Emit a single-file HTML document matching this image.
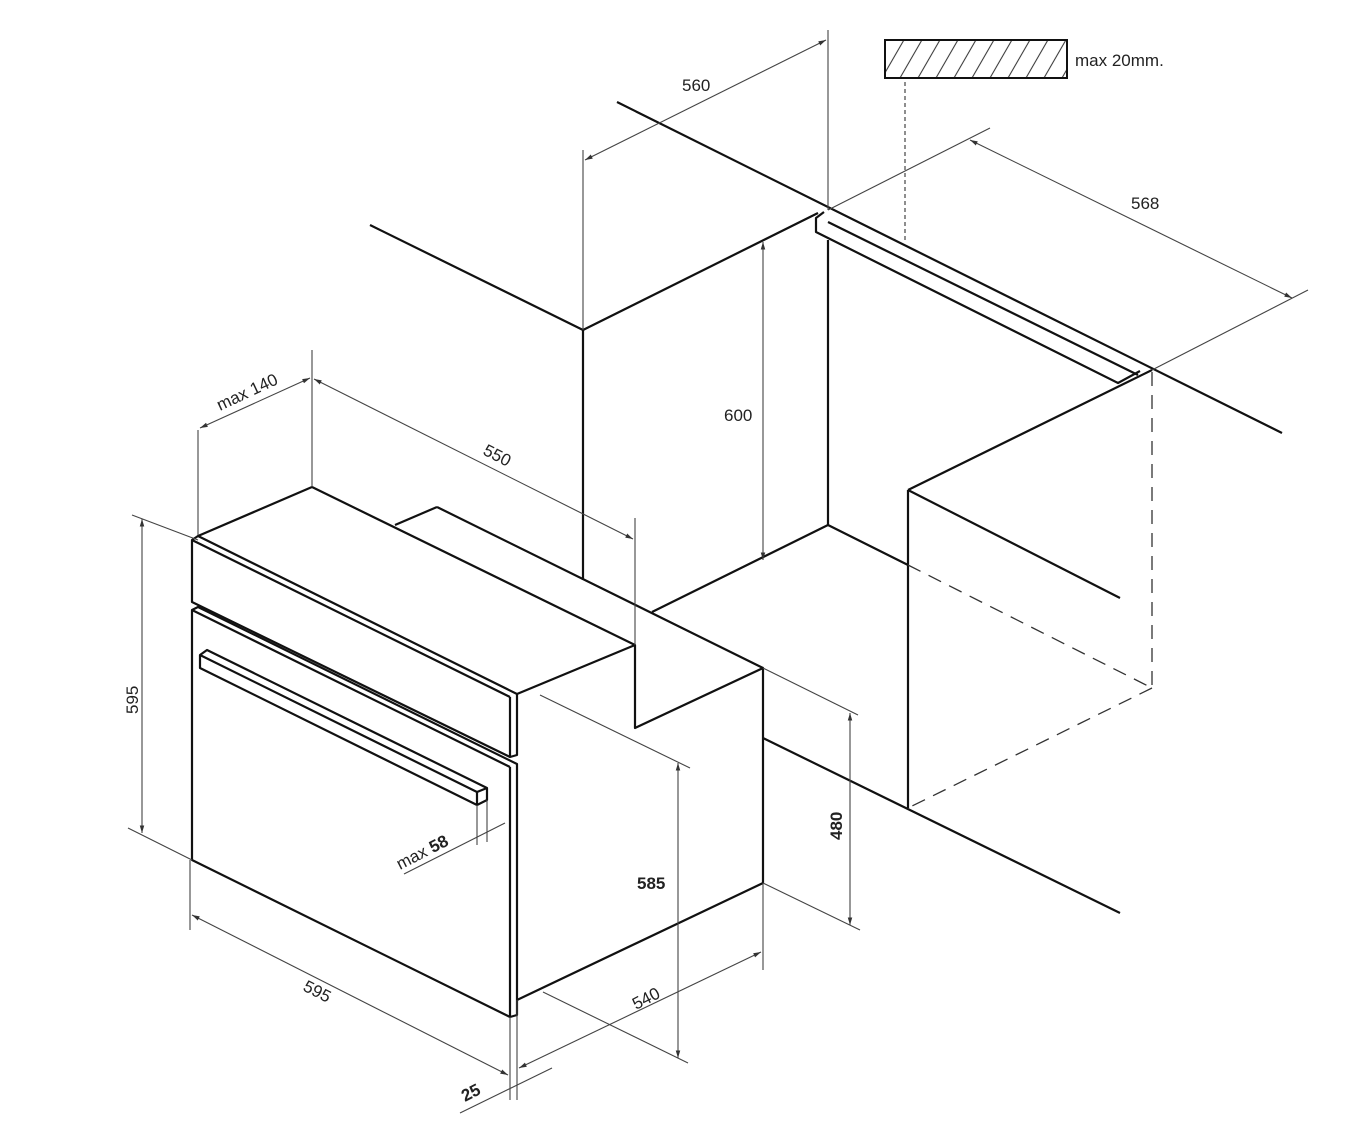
<!DOCTYPE html>
<html><head><meta charset="utf-8"><style>
html,body{margin:0;padding:0;background:#fff}
svg{display:block}
text{font-family:"Liberation Sans",sans-serif;fill:#222}
</style></head><body>
<svg width="1364" height="1129" viewBox="0 0 1364 1129" xmlns="http://www.w3.org/2000/svg">
<defs>
<marker id="a" viewBox="0 0 10 10" refX="10" refY="5" markerWidth="7" markerHeight="7" orient="auto-start-reverse"><path d="M0,2 L10,5 L0,8 z" fill="#333"/></marker>
<pattern id="h" width="18" height="40" patternUnits="userSpaceOnUse" patternTransform="skewX(-30)"><line x1="9" y1="0" x2="9" y2="40" stroke="#333" stroke-width="1.2"/></pattern>
</defs>
<g stroke="#111" stroke-width="2.2" fill="none" stroke-linejoin="round">
<!-- cabinet -->
<line x1="370" y1="225" x2="583" y2="330"/>
<line x1="583" y1="330" x2="583" y2="580"/>
<line x1="583" y1="330" x2="818" y2="213"/>
<line x1="617" y1="102" x2="1282" y2="433"/>
<line x1="828" y1="240" x2="828" y2="525"/>
<polyline points="824,212 816,218 816,232 1118,383 1140,371"/>
<line x1="828" y1="222" x2="1138" y2="375"/>
<line x1="828" y1="525" x2="652" y2="612"/>
<line x1="828" y1="525" x2="908" y2="565"/>
<line x1="908" y1="490" x2="1152" y2="370"/>
<line x1="908" y1="490" x2="1120" y2="598"/>
<line x1="908" y1="490" x2="908" y2="808"/>
<line x1="763" y1="738" x2="1120" y2="913"/>
<!-- oven -->
<line x1="437" y1="507" x2="763" y2="668"/>
<polyline points="395,525 437,507"/>
<line x1="312" y1="487" x2="198" y2="536"/>
<line x1="312" y1="487" x2="635" y2="645"/>
<polyline points="517,694 635,645 635,728 763,668 763,883 517,1000"/>
<polygon points="192,540 198,536 517,694 517,755 510,757 192,602"/>
<line x1="192" y1="540" x2="510" y2="697"/>
<line x1="510" y1="697" x2="510" y2="757"/>
<polygon points="192,610 198,607 517,764 517,1015 510,1017 192,860"/>
<line x1="192" y1="610" x2="510" y2="767"/>
<line x1="510" y1="767" x2="510" y2="1017"/>
<polygon points="200,655 207,650 487,788 487,800 477,805 200,668"/>
<line x1="200" y1="655" x2="477" y2="792"/>
<line x1="477" y1="792" x2="487" y2="788"/>
<line x1="477" y1="792" x2="477" y2="805"/>
</g>
<g stroke="#333" stroke-width="1.3" fill="none" stroke-dasharray="14,9">
<line x1="1152" y1="372" x2="1152" y2="688"/>
<line x1="908" y1="565" x2="1152" y2="688"/>
<line x1="1152" y1="688" x2="908" y2="808"/>
</g>
<line x1="905" y1="82" x2="905" y2="240" stroke="#444" stroke-width="1.2" stroke-dasharray="4,3"/>
<rect x="885" y="40" width="182" height="38" fill="url(#h)" stroke="#111" stroke-width="2"/>
<g stroke="#444" stroke-width="1.1" fill="none">
<line x1="828" y1="30" x2="828" y2="210"/>
<line x1="583" y1="150" x2="583" y2="330"/>
<line x1="585" y1="160" x2="826" y2="40" marker-start="url(#a)" marker-end="url(#a)"/>
<line x1="828" y1="210" x2="990" y2="128"/>
<line x1="1152" y1="370" x2="1308" y2="290"/>
<line x1="970" y1="140" x2="1292" y2="298" marker-start="url(#a)" marker-end="url(#a)"/>
<line x1="763" y1="242" x2="763" y2="560" marker-start="url(#a)" marker-end="url(#a)"/>
<line x1="198" y1="430" x2="198" y2="535"/>
<line x1="312" y1="350" x2="312" y2="487"/>
<line x1="200" y1="428" x2="310" y2="378" marker-start="url(#a)" marker-end="url(#a)"/>
<line x1="635" y1="518" x2="635" y2="645"/>
<line x1="314" y1="379" x2="633" y2="539" marker-start="url(#a)" marker-end="url(#a)"/>
<line x1="132" y1="515" x2="198" y2="540"/>
<line x1="128" y1="828" x2="192" y2="860"/>
<line x1="142" y1="519" x2="142" y2="833" marker-start="url(#a)" marker-end="url(#a)"/>
<line x1="477" y1="805" x2="477" y2="845"/>
<line x1="487" y1="800" x2="487" y2="842"/>
<line x1="404" y1="874" x2="505" y2="823"/>
<line x1="190" y1="860" x2="190" y2="930"/>
<line x1="192" y1="915" x2="508" y2="1075" marker-start="url(#a)" marker-end="url(#a)"/>
<line x1="510" y1="1017" x2="510" y2="1100"/>
<line x1="517" y1="1000" x2="517" y2="1100"/>
<line x1="460" y1="1113" x2="552" y2="1068"/>
<line x1="763" y1="883" x2="763" y2="970"/>
<line x1="519" y1="1068" x2="761" y2="952" marker-start="url(#a)" marker-end="url(#a)"/>
<line x1="540" y1="695" x2="690" y2="768"/>
<line x1="543" y1="992" x2="688" y2="1063"/>
<line x1="678" y1="763" x2="678" y2="1058" marker-start="url(#a)" marker-end="url(#a)"/>
<line x1="763" y1="668" x2="858" y2="715"/>
<line x1="763" y1="883" x2="860" y2="930"/>
<line x1="850" y1="713" x2="850" y2="925" marker-start="url(#a)" marker-end="url(#a)"/>
</g>
<text x="1075" y="66" font-size="17">max 20mm.</text>
<text x="682" y="91" font-size="17">560</text>
<text x="1131" y="209" font-size="17">568</text>
<text x="724" y="421" font-size="17">600</text>
<text font-size="17" transform="translate(220,411) rotate(-25)">max 140</text>
<text font-size="17" transform="translate(482,454) rotate(27)">550</text>
<text font-size="17" transform="translate(138,714) rotate(-90)">595</text>
<text font-size="17" transform="translate(302,990) rotate(27)">595</text>
<text font-size="17" transform="translate(400,870) rotate(-27)">max <tspan font-weight="bold">58</tspan></text>
<text x="637" y="889" font-size="17" font-weight="bold">585</text>
<text font-size="17" font-weight="bold" transform="translate(842,840) rotate(-90)">480</text>
<text font-size="17" transform="translate(636,1010) rotate(-27)">540</text>
<text font-size="17" font-weight="bold" transform="translate(465,1102) rotate(-27)">25</text>
</svg>
</body></html>
